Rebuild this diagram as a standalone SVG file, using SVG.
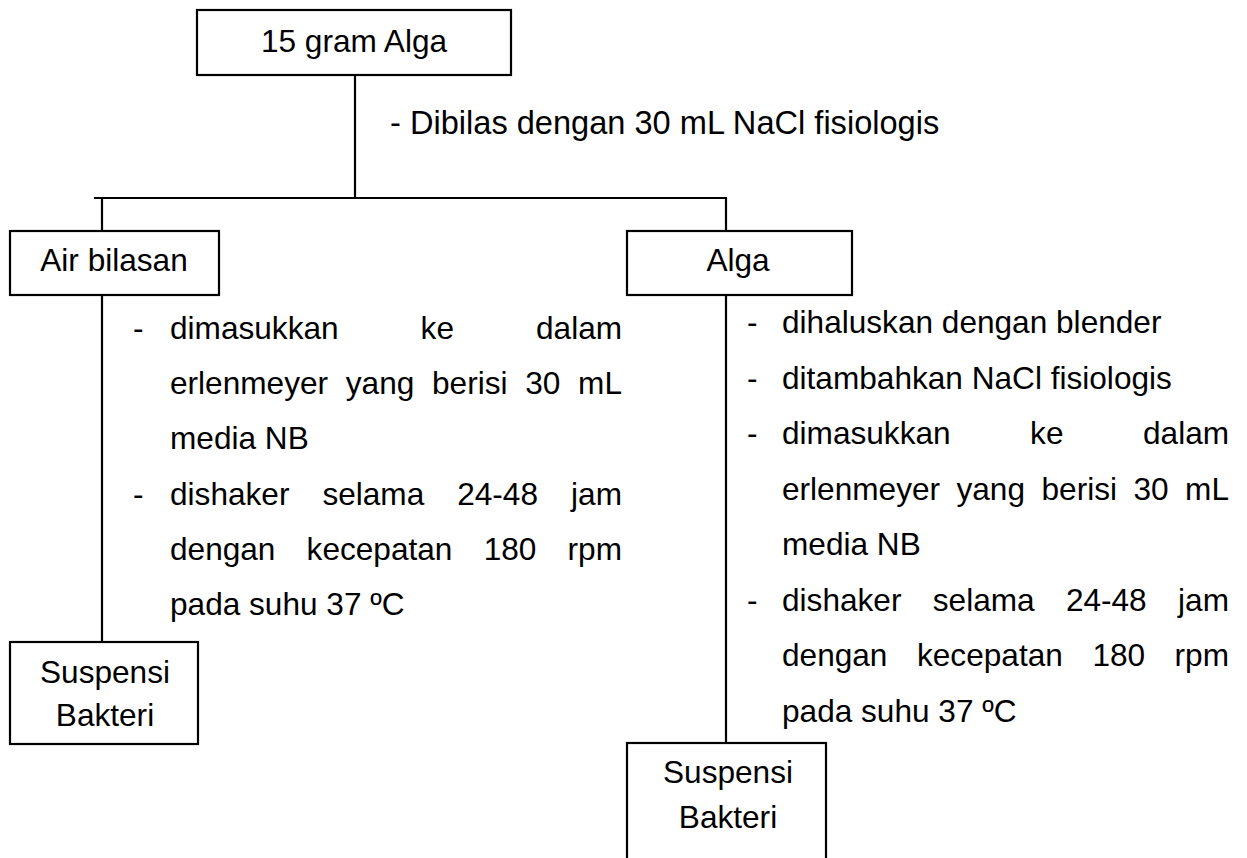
<svg xmlns="http://www.w3.org/2000/svg" width="1247" height="858" viewBox="0 0 1247 858">
<style>
.box{fill:#fff;stroke:#000;stroke-width:2.2}
.ln{fill:none;stroke:#000;stroke-width:2.2}
text{font-family:"Liberation Sans",Arial,sans-serif;font-size:31.6px;fill:#000}
.c{text-anchor:middle}
</style>
<rect width="1247" height="858" fill="#fff"/>
<g id="connectors">
<line class="ln" x1="355" y1="75" x2="355" y2="199"/>
<line class="ln" x1="94" y1="198" x2="727" y2="198"/>
<line class="ln" x1="102" y1="198" x2="102" y2="231"/>
<line class="ln" x1="726" y1="198" x2="726" y2="231"/>
<line class="ln" x1="102" y1="292" x2="102" y2="642"/>
<line class="ln" x1="726" y1="292" x2="726" y2="743"/>
</g>
<g id="node-alga15">
<rect class="box" x="197" y="10" width="314" height="65"/>
<text class="c" x="354" y="52">15 gram Alga</text>
</g>
<g id="node-air-bilasan">
<rect class="box" x="10" y="231" width="209" height="64"/>
<text class="c" x="114" y="271">Air bilasan</text>
</g>
<g id="node-alga">
<rect class="box" x="627" y="231" width="225" height="64"/>
<text class="c" x="738" y="271">Alga</text>
</g>
<g id="node-suspensi-left">
<rect class="box" x="10" y="642" width="188" height="102"/>
<text class="c" x="105" y="683">Suspensi</text>
<text class="c" x="105" y="726">Bakteri</text>
</g>
<g id="node-suspensi-right">
<rect class="box" x="627" y="743" width="199" height="130"/>
<text class="c" x="728" y="783">Suspensi</text>
<text class="c" x="728" y="828">Bakteri</text>
</g>
<g id="labels">
<text x="390" y="134" style="font-size:32.6px">- Dibilas dengan 30 mL NaCl fisiologis</text>
<text x="133" y="339">-</text>
<text y="339"><tspan x="170">dimasukkan</tspan><tspan x="420.6">ke</tspan><tspan x="536">dalam</tspan></text>
<text y="394"><tspan x="170">erlenmeyer</tspan><tspan x="345.8">yang</tspan><tspan x="432">berisi</tspan><tspan x="525.3">30</tspan><tspan x="578.1">mL</tspan></text>
<text x="170" y="449">media NB</text>
<text x="133" y="505">-</text>
<text y="505"><tspan x="170">dishaker</tspan><tspan x="322.4">selama</tspan><tspan x="457.2">24-48</tspan><tspan x="571.1">jam</tspan></text>
<text y="560"><tspan x="170">dengan</tspan><tspan x="306.6">kecepatan</tspan><tspan x="483.7">180</tspan><tspan x="567.6">rpm</tspan></text>
<text x="170" y="615">pada suhu 37 ºC</text>
<text x="747" y="333">-</text>
<text x="782" y="333">dihaluskan dengan blender</text>
<text x="747" y="389">-</text>
<text x="782" y="389">ditambahkan NaCl fisiologis</text>
<text x="747" y="444">-</text>
<text y="444"><tspan x="782">dimasukkan</tspan><tspan x="1030.1">ke</tspan><tspan x="1143">dalam</tspan></text>
<text y="500"><tspan x="782">erlenmeyer</tspan><tspan x="956.5">yang</tspan><tspan x="1041.5">berisi</tspan><tspan x="1133.5">30</tspan><tspan x="1185.1">mL</tspan></text>
<text x="782" y="555">media NB</text>
<text x="747" y="611">-</text>
<text y="611"><tspan x="782">dishaker</tspan><tspan x="932.8">selama</tspan><tspan x="1065.9">24-48</tspan><tspan x="1178.1">jam</tspan></text>
<text y="666"><tspan x="782">dengan</tspan><tspan x="917">kecepatan</tspan><tspan x="1092.4">180</tspan><tspan x="1174.6">rpm</tspan></text>
<text x="782" y="722">pada suhu 37 ºC</text>
</g>
</svg>
